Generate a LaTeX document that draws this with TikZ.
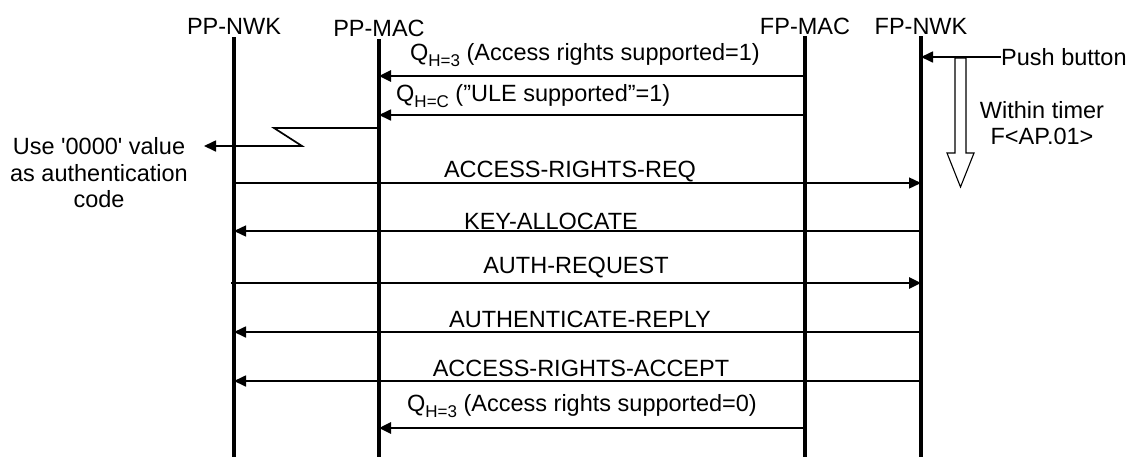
\documentclass[tikz,border=0pt]{standalone}
\usepackage{fontspec}
\setmainfont{Liberation Sans}
\usetikzlibrary{arrows.meta}
\newcommand\qsub[1]{\raisebox{-0.45ex}{\fontsize{17}{17}\selectfont #1}}
\begin{document}
\begin{tikzpicture}[x=1pt,y=-1pt,
  lbl/.style={font=\fontsize{23.5}{26.5}\selectfont, inner sep=0pt},
  life/.style={line width=3.3pt},
  msg/.style={-{Triangle[length=12pt,width=11pt]}, line width=1.7pt},
  thinmsg/.style={msg, line width=1.4pt},
  thickmsg/.style={msg, line width=2.8pt}]
\useasboundingbox (0,0) rectangle (1133,456);
% headers
\node[lbl] (hppn) at (234,26) {PP-NWK};
\node[lbl] (hppm) at (379,28) {PP-MAC};
\node[lbl] (hfpm) at (805,26) {FP-MAC};
\node[lbl] (hfpn) at (921,26) {FP-NWK};
% lifelines
\coordinate (ppn) at (234,37);
\coordinate (ppm) at (379,39);
\coordinate (fpm) at (805,36);
\coordinate (fpn) at (921,36);
\coordinate (bot) at (0,458);
\draw[life] (ppn) -- (ppn |- bot);
\draw[life] (ppm) -- (ppm |- bot);
\draw[life] (fpm) -- (fpm |- bot);
\draw[life] (fpn) -- (fpn |- bot);
% message rows
\coordinate (m1) at (0,76);
\coordinate (m2) at (0,115);
\coordinate (m4) at (0,183);
\coordinate (m5) at (0,231);
\coordinate (m6) at (0,283);
\coordinate (m7) at (0,332);
\coordinate (m8) at (0,381);
\coordinate (m9) at (0,428);
% Q H=3 (1)
\draw[thickmsg] (fpm |- m1) -- (ppm |- m1);
\node[lbl] (t1) at (585,55) {Q\qsub{H=3} (Access rights supported=1)};
% Q H=C
\draw[msg] (fpm |- m2) -- (ppm |- m2);
\node[lbl, anchor=west] (t2) at (396,96) {Q\qsub{H=C} (”ULE supported”=1)};
% zigzag to note
\node[lbl, align=center] (note) at (99,173) {Use \textquotesingle 0000\textquotesingle{} value\\as authentication\\code};
\coordinate (z1) at (274,128);
\coordinate (z2) at (302,146);
\coordinate (z3) at (204,146);
\draw[msg] (ppm |- z1) -- (z1) -- (z2) -- (z3);
% ACCESS-RIGHTS-REQ
\draw[thinmsg] (ppn |- m4) -- (fpn |- m4);
\node[lbl] (t4) at (570,172) {ACCESS-RIGHTS-REQ};
% KEY-ALLOCATE
\draw[thinmsg] (fpn |- m5) -- (ppn |- m5);
\node[lbl] (t5) at (551,221) {KEY-ALLOCATE};
% AUTH-REQUEST
\draw[thickmsg, shorten <=-3pt] (ppn |- m6) -- (fpn |- m6);
\node[lbl] (t6) at (576,268) {AUTH-REQUEST};
% AUTHENTICATE-REPLY
\draw[msg] (fpn |- m7) -- (ppn |- m7);
\node[lbl] (t7) at (580,319) {AUTHENTICATE-REPLY};
% ACCESS-RIGHTS-ACCEPT
\draw[msg] (fpn |- m8) -- (ppn |- m8);
\node[lbl] (t8) at (581,368) {ACCESS-RIGHTS-ACCEPT};
% Q H=3 (0)
\draw[thickmsg] (fpm |- m9) -- (ppm |- m9);
\node[lbl] (t9) at (582,406) {Q\qsub{H=3} (Access rights supported=0)};
% push button
\node[lbl, anchor=west] (push) at (1001,57) {Push button};
\draw[msg] (push.west) -- (fpn |- push.west);
% hollow timer arrow
\draw[line width=1.1pt, fill=white] (955,58) -- (966,58) -- (966,153) -- (974,153) -- (960.5,187) -- (947,153) -- (955,153) -- cycle;
\node[lbl, align=center] (timer) at (1042,123) {Within timer\\F<AP.01>};
\end{tikzpicture}
\end{document}
